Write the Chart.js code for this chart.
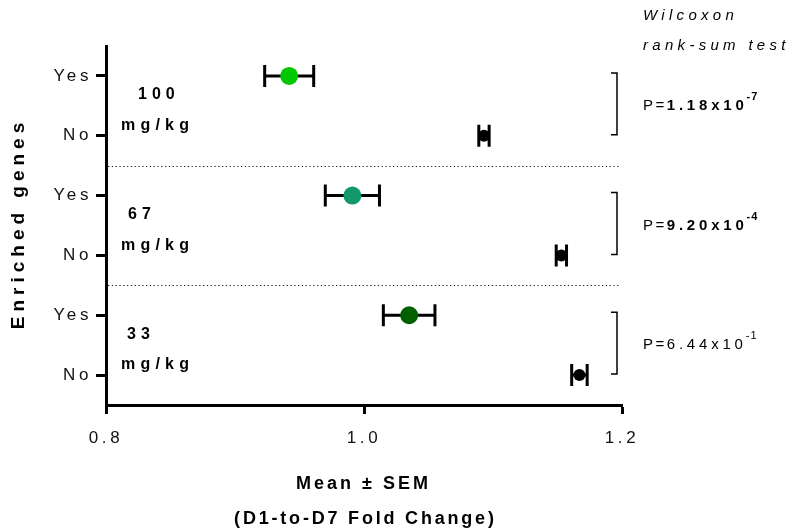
<!DOCTYPE html>
<html><head><meta charset="utf-8">
<script src="https://cdn.jsdelivr.net/npm/chart.js@4.4.1/dist/chart.umd.min.js"></script>
<style>html,body{margin:0;padding:0;background:#fff;overflow:hidden}</style>
</head><body>
<canvas id="c" width="794" height="530"></canvas>
<script>
// ---- data ----
const doseLabels = ['100', '67', '33'];
const yTickLabels = ['No', 'Yes', 'No', 'Yes', 'No', 'Yes']; // bottom to top
const yesMeans = [0.942, 0.991, 1.035];
const yesSEM = [0.019, 0.021, 0.020];
const noMeans = [1.093, 1.153, 1.167];
const noSEM = [0.004, 0.004, 0.006];
const yesColors = ['#00c800', '#12996a', '#005f00'];
const pMantissa = ['1.18', '9.20', '6.44'];
const pExponent = ['-7', '-4', '-1'];
const pBold = [true, true, false];
const xTickValues = [0.8, 1.0, 1.2];

const FONT = '"Liberation Sans", Arial, sans-serif';

function drawText(ctx, s, x, y, font, align, spacing) {
  ctx.save();
  ctx.font = font;
  ctx.letterSpacing = spacing + 'px';
  ctx.textBaseline = 'middle';
  ctx.textAlign = 'left';
  ctx.fillStyle = '#000';
  const w = ctx.measureText(s).width - spacing;
  let x0 = x;
  if (align === 'center') x0 = x - w / 2;
  else if (align === 'right') x0 = x - w;
  ctx.fillText(s, x0, y);
  ctx.restore();
  return x0 + w + spacing;
}

const errorBars = {
  id: 'errorBars',
  beforeDatasetsDraw(chart) {
    const ctx = chart.ctx, xs = chart.scales.x, ys = chart.scales.y;
    ctx.save();
    // dotted separators between dose groups
    ctx.strokeStyle = '#222';
    ctx.lineWidth = 1;
    ctx.setLineDash([1.3, 2.5]);
    [2, 4].forEach(v => {
      const py = Math.round(ys.getPixelForValue(v)) + 0.5;
      ctx.beginPath();
      ctx.moveTo(xs.left + 2, py);
      ctx.lineTo(xs.right - 2, py);
      ctx.stroke();
    });
    ctx.setLineDash([]);
    // error bars
    ctx.strokeStyle = '#000';
    ctx.lineWidth = 3;
    chart.data.datasets.forEach(ds => {
      ds.data.forEach(p => {
        const x1 = xs.getPixelForValue(p.x - p.err);
        const x2 = xs.getPixelForValue(p.x + p.err);
        const py = ys.getPixelForValue(p.y);
        ctx.beginPath();
        ctx.moveTo(x1, py); ctx.lineTo(x2, py);
        ctx.moveTo(x1, py - 11); ctx.lineTo(x1, py + 11);
        ctx.moveTo(x2, py - 11); ctx.lineTo(x2, py + 11);
        ctx.stroke();
      });
    });
    ctx.restore();
  },
  beforeDraw(chart) {
    chart.ctx.letterSpacing = '3.6px';
  },
  afterDraw(chart) {
    const ctx = chart.ctx, xs = chart.scales.x, ys = chart.scales.y;
    ctx.letterSpacing = '0px';
    // y axis title
    ctx.save();
    ctx.translate(19, 226);
    ctx.rotate(-Math.PI / 2);
    drawText(ctx, 'Enriched genes', 0, 0, 'bold 19px ' + FONT, 'center', 5);
    ctx.restore();
    // x axis title
    const cx = (xs.left + xs.right) / 2;
    drawText(ctx, 'Mean \u00B1 SEM', cx - 2, 484, 'bold 18px ' + FONT, 'center', 3);
    drawText(ctx, '(D1-to-D7 Fold Change)', cx, 519, 'bold 18px ' + FONT, 'center', 2.8);
    // test title
    drawText(ctx, 'Wilcoxon', 643, 16, 'italic 15px ' + FONT, 'left', 4.3);
    drawText(ctx, 'rank-sum test', 643, 46, 'italic 15px ' + FONT, 'left', 4.3);
    const numLeft = [138, 128, 127];
    doseLabels.forEach((d, i) => {
      const yYes = ys.getPixelForValue(5.5 - 2 * i);
      const yNo = ys.getPixelForValue(4.5 - 2 * i);
      drawText(ctx, d, numLeft[i], yYes + 19, 'bold 16px ' + FONT, 'left', 5);
      drawText(ctx, 'mg/kg', 121, yNo - 10, 'bold 16px ' + FONT, 'left', 5.2);
      // bracket
      const bx = xs.right - 5;
      ctx.save();
      ctx.strokeStyle = '#000';
      ctx.lineWidth = 1.5;
      ctx.beginPath();
      ctx.moveTo(bx - 6, yYes - 3);
      ctx.lineTo(bx, yYes - 3);
      ctx.lineTo(bx, yNo - 1);
      ctx.lineTo(bx - 6, yNo - 1);
      ctx.stroke();
      ctx.restore();
      // p value
      const ym = (yYes + yNo) / 2;
      let x = drawText(ctx, 'P=', 643, ym, '15px ' + FONT, 'left', 2.5);
      const f = (pBold[i] ? 'bold ' : '') + '15px ' + FONT;
      x = drawText(ctx, pMantissa[i] + 'x10', x, ym, f, 'left', 3.8);
      drawText(ctx, pExponent[i], x - 1, ym - 9, (pBold[i] ? 'bold ' : '') + '11px ' + FONT, 'left', 1);
    });
  }
};

const yesData = yesMeans.map((m, i) => ({ x: m, y: 5.5 - 2 * i, err: yesSEM[i] }));
const noData = noMeans.map((m, i) => ({ x: m, y: 4.5 - 2 * i, err: noSEM[i] }));

new Chart(document.getElementById('c'), {
  type: 'scatter',
  data: {
    datasets: [
      { label: 'Yes', data: yesData, pointRadius: 9, pointHoverRadius: 9,
        pointBackgroundColor: yesColors, pointBorderWidth: 0, borderWidth: 0 },
      { label: 'No', data: noData, pointRadius: 6, pointHoverRadius: 6,
        pointBackgroundColor: '#000', pointBorderWidth: 0, borderWidth: 0 }
    ]
  },
  options: {
    responsive: false,
    animation: false,
    devicePixelRatio: 1,
    layout: { padding: { left: 0, right: 172, top: 46, bottom: 0 } },
    plugins: { legend: { display: false }, tooltip: { enabled: false }, title: { display: false } },
    scales: {
      x: {
        type: 'linear', min: 0.8, max: 1.2,
        afterBuildTicks: s => { s.ticks = xTickValues.map(v => ({ value: v })); },
        afterFit: s => { s.height = 125; },
        border: { display: true, color: '#000', width: 3 },
        grid: { drawOnChartArea: false, drawTicks: true, tickLength: 9, tickWidth: 3, tickColor: '#000' },
        ticks: { color: '#111', padding: 14, maxRotation: 0, font: { family: FONT, size: 17 },
                 callback: v => Number(v).toFixed(1) }
      },
      y: {
        type: 'linear', min: 0, max: 6,
        afterBuildTicks: s => { s.ticks = yTickLabels.map((_, i) => ({ value: i + 0.5 })); },
        afterFit: s => { s.width = 106; },
        border: { display: true, color: '#000', width: 3 },
        grid: { drawOnChartArea: false, drawTicks: true, tickLength: 10, tickWidth: 3, tickColor: '#000' },
        ticks: { color: '#111', padding: 4, font: { family: FONT, size: 17 },
                 callback: (v, i) => yTickLabels[i] }
      }
    }
  },
  plugins: [errorBars]
});
</script>
</body></html>
